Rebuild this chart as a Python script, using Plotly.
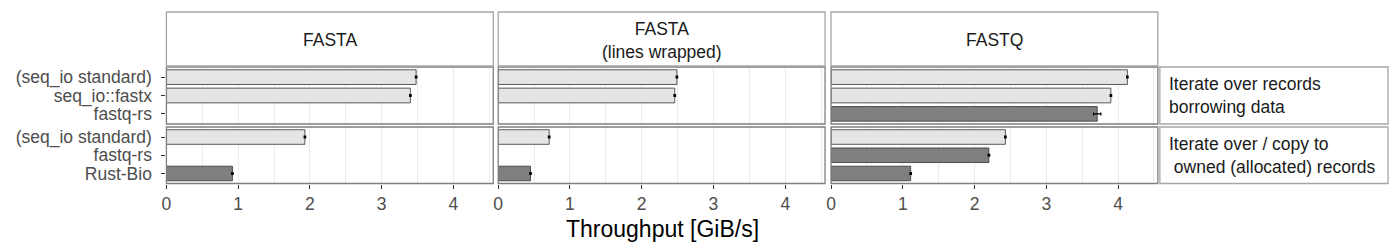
import plotly.graph_objects as go

# ---- data ----
col_labels = ["FASTA", "FASTA<br>(lines wrapped)", "FASTQ"]
row_labels = ["Iterate over records<br>borrowing data",
              "Iterate over / copy to<br> owned (allocated) records"]
row1_libs = ["(seq_io standard)", "seq_io::fastx", "fastq-rs"]
row2_libs = ["(seq_io standard)", "fastq-rs", "Rust-Bio"]

fasta_row1 = [3.48, 3.40, None]
fasta_row2 = [1.93, None, 0.92]
wrapped_row1 = [2.49, 2.46, None]
wrapped_row2 = [0.71, None, 0.45]
fastq_row1 = [4.13, 3.90, 3.71]
fastq_row2 = [2.43, 2.20, 1.11]

fasta_err1 = [0.01, 0.01, 0]
fasta_err2 = [0.01, 0, 0.01]
wrapped_err1 = [0.01, 0.01, 0]
wrapped_err2 = [0.01, 0, 0.01]
fastq_err1 = [0.01, 0.01, 0.05]
fastq_err2 = [0.01, 0.01, 0.01]

values = [[fasta_row1, wrapped_row1, fastq_row1],
          [fasta_row2, wrapped_row2, fastq_row2]]
errors = [[fasta_err1, wrapped_err1, fastq_err1],
          [fasta_err2, wrapped_err2, fastq_err2]]
row_libs = [row1_libs, row2_libs]

W, H = 1400, 250
LIGHT, DARK = "#e5e5e5", "#7f7f7f"

col_px = [(162, 490), (495, 823), (829, 1157)]
row_px = [(67, 124), (127, 183.5)]
strip_top = (12, 66)
strip_right = (1159, 1388)

def fx(p):
    return p / W

def fy(p):
    return 1 - p / H

FONT = "Liberation Sans, Arial, sans-serif"
FS = 17.5

fig = go.Figure()
layout = dict(width=W, height=H, margin=dict(l=0, r=0, t=0, b=0),
              paper_bgcolor="white", plot_bgcolor="white", showlegend=False,
              font=dict(family=FONT, color="#4d4d4d", size=FS))
shapes = []
annotations = []

for r in range(2):
    for c in range(3):
        n = r * 3 + c + 1
        sfx = "" if n == 1 else str(n)
        libs = row_libs[r]
        vals = values[r][c]
        errs = errors[r][c]
        colors = [LIGHT if lib.startswith("(seq_io") or lib.startswith("seq_io") else DARK
                  for lib in libs]
        fig.add_trace(go.Bar(
            x=vals, y=libs, orientation="h", width=0.8,
            marker=dict(color=colors, line=dict(color="#333333", width=0.8)),
            error_x=dict(type="data", array=errs, color="black", thickness=1.3, width=1.5),
            xaxis="x" + sfx, yaxis="y" + sfx, hoverinfo="x+y"))
        x0, x1 = col_px[c]
        y0, y1 = row_px[r]
        layout["xaxis" + sfx] = dict(
            domain=[fx(x0), fx(x1)], anchor="y" + sfx, range=[0, 4.555],
            tickmode="array", tickvals=[0, 1, 2, 3, 4],
            showticklabels=(r == 1), ticks="outside" if r == 1 else "",
            ticklen=4, tickwidth=1, tickcolor="#333333",
            tickfont=dict(size=FS, color="#4d4d4d"),
            showgrid=True, gridcolor="#ebebeb", gridwidth=1,
            minor=dict(tickvals=[0.5, 1.5, 2.5, 3.5, 4.5], showgrid=True,
                       gridcolor="#ebebeb", gridwidth=1),
            zeroline=False, showline=False, fixedrange=True)
        layout["yaxis" + sfx] = dict(
            domain=[fy(y1), fy(y0)], anchor="x" + sfx, type="category",
            categoryorder="array", categoryarray=libs, range=[2.55, -0.55],
            tickmode="array", tickvals=libs, ticktext=libs,
            showticklabels=(c == 0), ticks="outside" if c == 0 else "",
            ticklen=4, tickwidth=1, tickcolor="#333333", ticklabelstandoff=6,
            tickfont=dict(size=FS, color="#4d4d4d"),
            showgrid=False, zeroline=False, showline=False, fixedrange=True)
        shapes.append(dict(type="rect", xref="paper", yref="paper",
                           x0=fx(x0), x1=fx(x1), y0=fy(y1), y1=fy(y0),
                           line=dict(color="#7f7f7f", width=1.3),
                           fillcolor="rgba(0,0,0,0)", layer="above"))

# top strips
for c in range(3):
    x0, x1 = col_px[c]
    shapes.append(dict(type="rect", xref="paper", yref="paper",
                       x0=fx(x0), x1=fx(x1), y0=fy(strip_top[1]), y1=fy(strip_top[0]),
                       line=dict(color="#a6a6a6", width=1.3), fillcolor="white"))
    annotations.append(dict(text=col_labels[c], xref="paper", yref="paper",
                            x=fx((x0 + x1) / 2), y=fy((strip_top[0] + strip_top[1]) / 2 + 1),
                            xanchor="center", yanchor="middle", showarrow=False,
                            font=dict(size=FS, color="#1a1a1a", family=FONT)))

# right strips
for r in range(2):
    y0, y1 = row_px[r]
    shapes.append(dict(type="rect", xref="paper", yref="paper",
                       x0=fx(strip_right[0]), x1=fx(strip_right[1]), y0=fy(y1), y1=fy(y0),
                       line=dict(color="#a6a6a6", width=1.3), fillcolor="white"))
    annotations.append(dict(text=row_labels[r], xref="paper", yref="paper",
                            x=fx(strip_right[0] + 7), y=fy((y0 + y1) / 2),
                            xanchor="left", yanchor="middle", align="left", showarrow=False,
                            font=dict(size=FS, color="#1a1a1a", family=FONT)))

annotations.append(dict(text="Throughput [GiB/s]", xref="paper", yref="paper",
                        x=fx(659.5), y=fy(229), xanchor="center", yanchor="middle",
                        showarrow=False, font=dict(size=23, color="black", family=FONT)))

layout["shapes"] = shapes
layout["annotations"] = annotations
fig.update_layout(**layout)
fig.write_html("out.html")
